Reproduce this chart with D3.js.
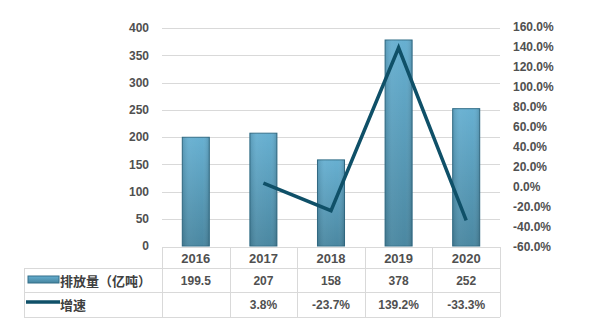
<!DOCTYPE html>
<html><head><meta charset="utf-8">
<script src="https://cdn.jsdelivr.net/npm/d3@7"></script>
<style>body{margin:0;background:#fff;}svg{display:block;}</style>
</head><body>
<script>
const years = ["2016","2017","2018","2019","2020"];
const emissions = [199.5, 207, 158, 378, 252];
const growth = [null, 3.8, -23.7, 139.2, -33.3];
const emissionLabels = ["199.5","207","158","378","252"];
const growthLabels = ["","3.8%","-23.7%","139.2%","-33.3%"];
const leftTicks = [0,50,100,150,200,250,300,350,400];
const rightTicks = [-60,-40,-20,0,20,40,60,80,100,120,140,160];
const seriesNames = ["排放量（亿吨）","增速"];

const W=606,H=327;
const svg=d3.select("body").append("svg").attr("width",W).attr("height",H);
const defs=svg.append("defs");
const g1=defs.append("linearGradient").attr("id","barV").attr("x1",0).attr("y1",0).attr("x2",0).attr("y2",1);
g1.append("stop").attr("offset","0%").attr("stop-color","#64aed0");
g1.append("stop").attr("offset","100%").attr("stop-color","#47859f");
const g2=defs.append("linearGradient").attr("id","barH").attr("x1",0).attr("y1",0).attr("x2",1).attr("y2",0);
g2.append("stop").attr("offset","0%").attr("stop-color","#000").attr("stop-opacity",0.12);
g2.append("stop").attr("offset","25%").attr("stop-color","#fff").attr("stop-opacity",0.06);
g2.append("stop").attr("offset","75%").attr("stop-color","#fff").attr("stop-opacity",0.02);
g2.append("stop").attr("offset","100%").attr("stop-color","#000").attr("stop-opacity",0.15);

const x0=162,x1=500;
const x=d3.scaleBand().domain(years).range([x0,x1]).paddingInner(0).paddingOuter(0);
const yL=d3.scaleLinear().domain([0,400]).range([246,28]);
const yR=d3.scaleLinear().domain([-60,160]).range([247,27]);
const font="'Liberation Sans', Arial, sans-serif";
const cjk="'Noto Sans CJK SC', sans-serif";
const txtColor="#505050";

// gridlines
svg.append("g").selectAll("line").data(leftTicks.slice(1)).join("line")
  .attr("x1",x0).attr("x2",x1).attr("y1",d=>Math.round(yL(d))+0.5).attr("y2",d=>Math.round(yL(d))+0.5)
  .attr("stroke","#d9d9d9").attr("stroke-width",1);

// left axis labels
const axL=d3.axisLeft(yL).tickValues(leftTicks).tickSize(0).tickPadding(0);
const gL=svg.append("g").attr("transform","translate(149,0)").call(axL);
gL.select(".domain").remove();
gL.selectAll("text").attr("font-family",font).attr("font-size",12).attr("font-weight","bold").attr("fill",txtColor);

// right axis labels
const axR=d3.axisRight(yR).tickValues(rightTicks).tickSize(0).tickPadding(0).tickFormat(d=>d.toFixed(1)+"%");
const gR=svg.append("g").attr("transform","translate(513,0)").call(axR);
gR.select(".domain").remove();
gR.selectAll("text").attr("font-family",font).attr("font-size",12).attr("font-weight","bold").attr("fill",txtColor);

// bars
const bw=x.bandwidth()*0.4;
const bars=svg.append("g");
bars.selectAll("rect.b").data(emissions).join("rect").attr("class","b")
  .attr("x",(d,i)=>x(years[i])+x.bandwidth()/2-bw/2).attr("width",bw)
  .attr("y",d=>yL(d)).attr("height",d=>yL(0)-yL(d))
  .attr("fill","url(#barV)").attr("stroke","#336f89").attr("stroke-width",1);
bars.selectAll("rect.h").data(emissions).join("rect").attr("class","h")
  .attr("x",(d,i)=>x(years[i])+x.bandwidth()/2-bw/2).attr("width",bw)
  .attr("y",d=>yL(d)).attr("height",d=>yL(0)-yL(d))
  .attr("fill","url(#barH)");

// line
const pts=growth.map((v,i)=>({v,i})).filter(d=>d.v!==null);
svg.append("path").datum(pts)
  .attr("d",d3.line().x(d=>x(years[d.i])+x.bandwidth()/2).y(d=>yR(d.v)))
  .attr("fill","none").attr("stroke","#0f5068").attr("stroke-width",3.5).attr("stroke-linejoin","miter");

// table
const rows=[247,268,292,317];
const tl="#d9d9d9";
const tg=svg.append("g").attr("stroke",tl).attr("stroke-width",1).attr("shape-rendering","crispEdges");
tg.append("line").attr("x1",x0).attr("x2",x1).attr("y1",rows[0]+0.5).attr("y2",rows[0]+0.5);
[rows[1],rows[2],rows[3]].forEach(r=>tg.append("line").attr("x1",24).attr("x2",x1).attr("y1",r+0.5).attr("y2",r+0.5));
tg.append("line").attr("x1",24.5).attr("x2",24.5).attr("y1",rows[1]).attr("y2",rows[3]);
const colEdges=years.map(y=>x(y)).concat([x1]);
colEdges.forEach(cx=>tg.append("line").attr("x1",cx+0.5).attr("x2",cx+0.5).attr("y1",rows[0]).attr("y2",rows[3]));

const cell=(arr,yc,fs)=>svg.append("g").selectAll("text").data(arr).join("text")
  .attr("x",(d,i)=>x(years[i])+x.bandwidth()/2).attr("y",yc).attr("text-anchor","middle")
  .attr("dominant-baseline","central").attr("font-family",font).attr("font-size",fs)
  .attr("font-weight","bold").attr("fill",txtColor).text(d=>d);
cell(years,258,13);
cell(emissionLabels,281,12);
cell(growthLabels,305,12);

// legend swatches
const lg=svg.append("g");
lg.append("rect").attr("x",28).attr("y",276).attr("width",31).attr("height",7)
  .attr("fill","url(#barV)").attr("stroke","#336f89").attr("stroke-width",1);
lg.append("line").attr("x1",26).attr("x2",60).attr("y1",302).attr("y2",302)
  .attr("stroke","#0f5068").attr("stroke-width",3.5);
lg.selectAll("text").data(seriesNames).join("text")
  .attr("x",60).attr("y",(d,i)=>i===0?280:304).attr("dominant-baseline","central")
  .attr("font-family",cjk).attr("font-size",13).attr("font-weight","bold").attr("fill","#404040").text(d=>d);
</script>
</body></html>
